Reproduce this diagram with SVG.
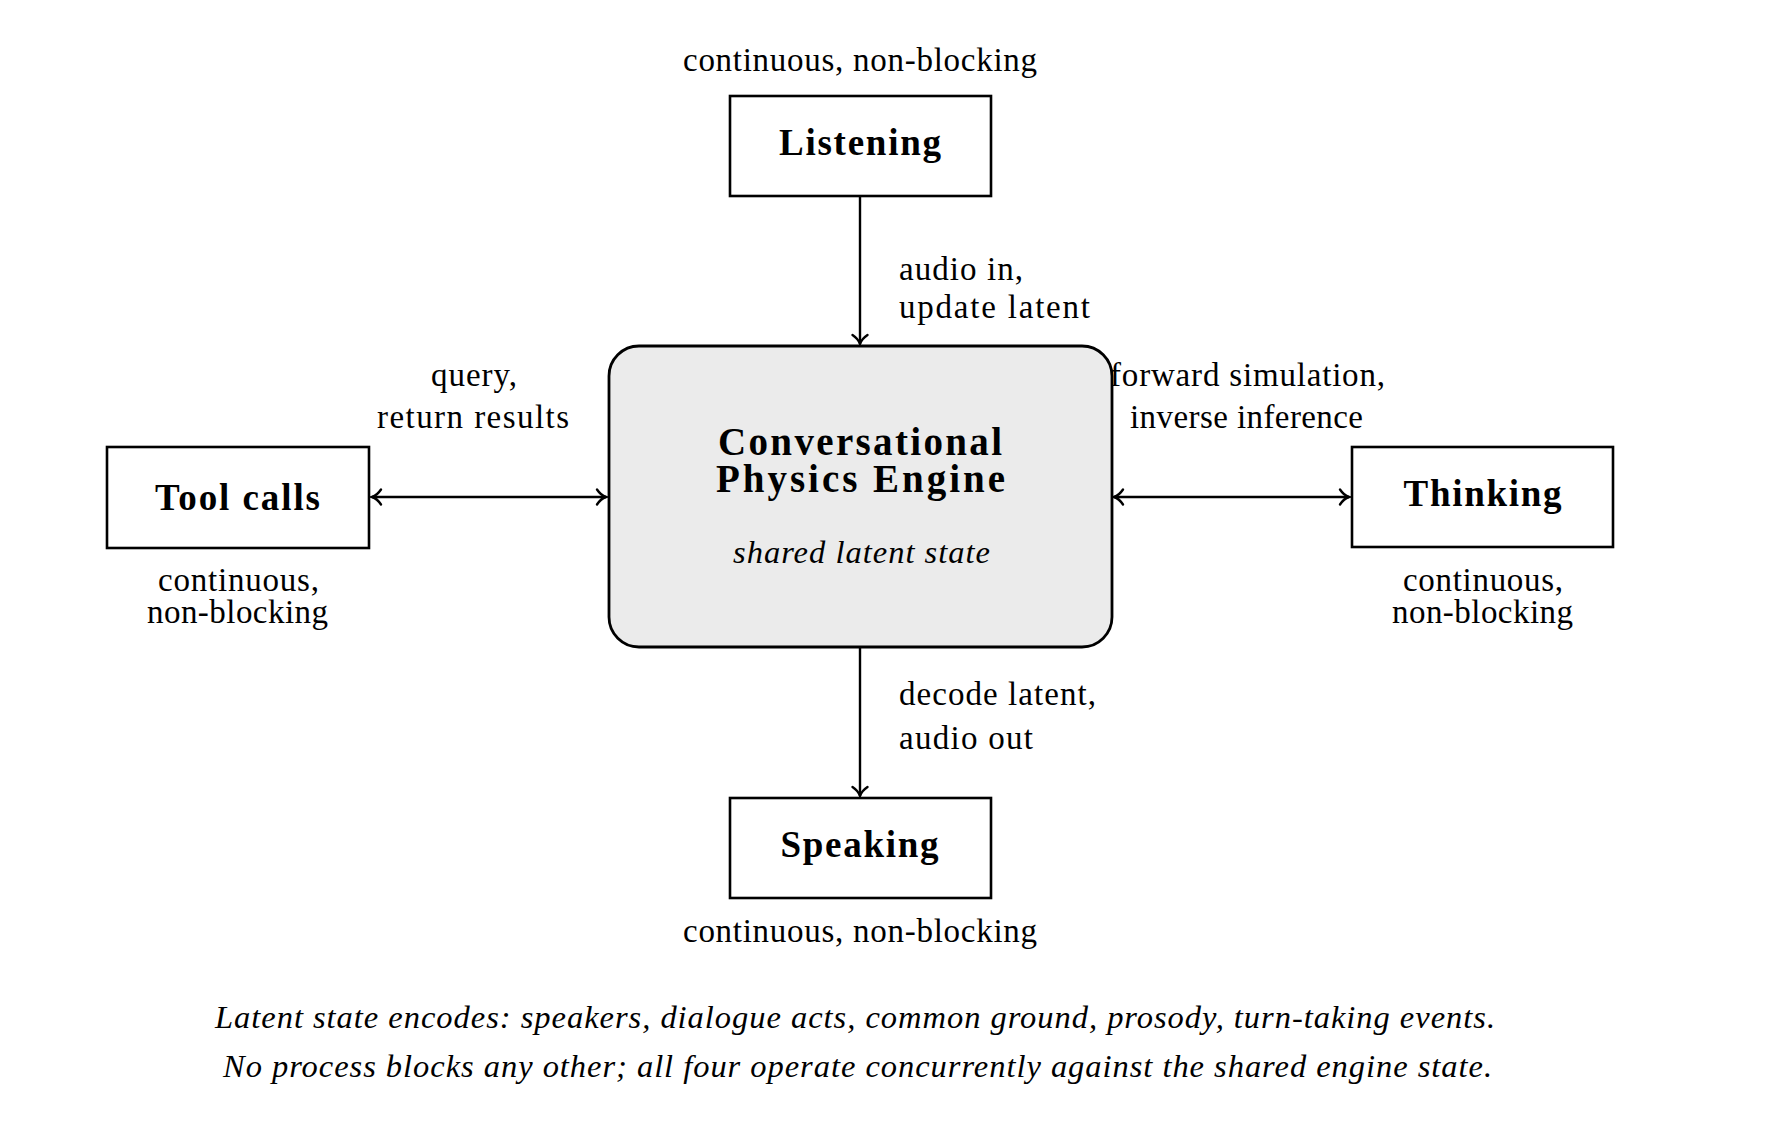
<svg xmlns="http://www.w3.org/2000/svg" width="1774" height="1122" viewBox="0 0 1774 1122">
<style>
.t{font-family:"Liberation Serif","Times New Roman",serif;font-size:33px;fill:#000}
.b{font-family:"Liberation Serif","Times New Roman",serif;font-size:37px;font-weight:bold;fill:#000}
.h{font-family:"Liberation Serif","Times New Roman",serif;font-size:39px;font-weight:bold;fill:#000}
.i{font-family:"Liberation Serif","Times New Roman",serif;font-size:32.5px;font-style:italic;fill:#000}
.m{text-anchor:middle}
.box{fill:#fff;stroke:#000;stroke-width:2.6}
.eng{fill:#ebebeb;stroke:#000;stroke-width:2.8}
.con{fill:none;stroke:#000;stroke-width:2.4}
</style>
<defs>
<marker id="ah" markerUnits="userSpaceOnUse" markerWidth="24" markerHeight="24" viewBox="-12 -12 24 24" refX="0" refY="0" orient="auto-start-reverse">
<path d="M-9,-7.5 C-6,-3 -2.5,-0.8 0,0 C-2.5,0.8 -6,3 -9,7.5" fill="none" stroke="#000" stroke-width="2.4" stroke-linecap="round"/>
</marker>
</defs>
<rect width="1774" height="1122" fill="#fff"/>

<g id="connectors">
<line class="con" x1="860" y1="197" x2="860" y2="344" marker-end="url(#ah)"/>
<line class="con" x1="860" y1="648" x2="860" y2="796" marker-end="url(#ah)"/>
<line class="con" x1="372" y1="497" x2="606" y2="497" marker-start="url(#ah)" marker-end="url(#ah)"/>
<line class="con" x1="1114" y1="497" x2="1349" y2="497" marker-start="url(#ah)" marker-end="url(#ah)"/>
<text class="t" x="899" y="280" textLength="124">audio in,</text>
<text class="t" x="899" y="318" textLength="191">update latent</text>
<text class="t m" x="474" y="386" textLength="86">query,</text>
<text class="t m" x="473" y="428" textLength="192">return results</text>
<text class="t m" x="1247.5" y="386" textLength="275">forward simulation,</text>
<text class="t m" x="1246.5" y="428" textLength="233">inverse inference</text>
<text class="t" x="899" y="705" textLength="197">decode latent,</text>
<text class="t" x="899" y="749" textLength="134">audio out</text>
</g>

<g id="engine">
<rect class="eng" x="609" y="346" width="503" height="301" rx="30" ry="30"/>
<text class="h m" x="860" y="455" textLength="284">Conversational</text>
<text class="h m" x="860.5" y="492" textLength="289">Physics Engine</text>
<text class="i m" x="861.5" y="563" textLength="257">shared latent state</text>
</g>

<g id="listening">
<text class="t m" x="860" y="71" textLength="354">continuous, non-blocking</text>
<rect class="box" x="730" y="96" width="261" height="100"/>
<text class="b m" x="860" y="155" textLength="162">Listening</text>
</g>

<g id="tool-calls">
<rect class="box" x="107" y="447" width="262" height="101"/>
<text class="b m" x="237.5" y="510" textLength="165">Tool calls</text>
<text class="t m" x="238.5" y="591" textLength="161">continuous,</text>
<text class="t m" x="237.5" y="623" textLength="181">non-blocking</text>
</g>

<g id="thinking">
<rect class="box" x="1352" y="447" width="261" height="100"/>
<text class="b m" x="1482.5" y="506" textLength="158">Thinking</text>
<text class="t m" x="1483" y="591" textLength="160">continuous,</text>
<text class="t m" x="1482.5" y="623" textLength="181">non-blocking</text>
</g>

<g id="speaking">
<rect class="box" x="730" y="798" width="261" height="100"/>
<text class="b m" x="859.5" y="857" textLength="158">Speaking</text>
<text class="t m" x="860" y="942" textLength="354">continuous, non-blocking</text>
</g>

<g id="footer">
<text class="i m" x="855" y="1028" textLength="1280">Latent state encodes: speakers, dialogue acts, common ground, prosody, turn-taking events.</text>
<text class="i m" x="857.5" y="1077" textLength="1269">No process blocks any other; all four operate concurrently against the shared engine state.</text>
</g>
</svg>
